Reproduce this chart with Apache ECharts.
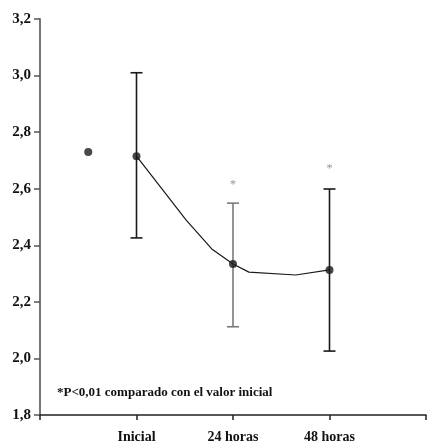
<!DOCTYPE html>
<html>
<head>
<meta charset="utf-8">
<script src="https://cdn.jsdelivr.net/npm/echarts@6/dist/echarts.min.js"></script>
<style>
  html, body { margin: 0; padding: 0; background: #fff; }
  #chart { width: 429px; height: 446px; }
</style>
</head>
<body>
<div id="chart"></div>
<script>
// categorías y posiciones en el eje x
var categories = ["Inicial", "24 horas", "48 horas"];
var catPos = [1, 2, 3];
// medias y barras de error
var means = [2.715, 2.334, 2.313];
var upper = [3.01, 2.549, 2.599];
var lower = [2.426, 2.112, 2.026];
var barColors = ["#1a1a1a", "#7a7a7a", "#1a1a1a"];
// curva que une las medias
var curveX = [1, 1.515, 1.78, 2, 2.165, 2.65, 3];
var curveY = [2.715, 2.489, 2.387, 2.334, 2.305, 2.295, 2.313];
// punto suelto a la izquierda
var loneDot = [0.5, 2.73];
// asteriscos de significación
var starPos = [2, 3];
var starY = [2.615, 2.67];
var yTicks = [1.8, 2.0, 2.2, 2.4, 2.6, 2.8, 3.0, 3.2];

var serif = "Liberation Serif";
var myChart = echarts.init(document.getElementById("chart"));

var option = {
  animation: false,
  grid: { left: 40, right: 1, top: 19, bottom: 31 },
  xAxis: {
    type: "value",
    min: 0,
    max: 4,
    interval: 1,
    splitLine: { show: false },
    axisLine: { show: true, lineStyle: { color: "#222", width: 1.5 } },
    axisTick: { show: true, length: 5, lineStyle: { color: "#222", width: 1.5 } },
    axisLabel: {
      margin: 15,
      color: "#111",
      fontFamily: serif,
      fontWeight: "bold",
      fontSize: 14,
      formatter: function (v) {
        var i = catPos.indexOf(v);
        return i >= 0 ? categories[i] : "";
      },
    },
  },
  yAxis: {
    type: "value",
    min: yTicks[0],
    max: yTicks[yTicks.length - 1],
    interval: 0.2,
    splitLine: { show: false },
    axisLine: { show: true, lineStyle: { color: "#777", width: 2 } },
    axisTick: { show: true, length: 6, lineStyle: { color: "#555", width: 1.5 } },
    axisLabel: {
      margin: 9,
      color: "#111",
      fontFamily: serif,
      fontWeight: "bold",
      fontSize: 15,
      formatter: function (v) {
        return v.toFixed(1).replace(".", ",");
      },
    },
  },
  series: [
    {
      type: "line",
      data: curveX.map(function (x, i) { return [x, curveY[i]]; }),
      symbol: "none",
      lineStyle: { color: "#1a1a1a", width: 1.2 },
      z: 2,
    },
    {
      type: "custom",
      data: catPos.map(function (x, i) { return [x, lower[i], upper[i], i]; }),
      renderItem: function (params, api) {
        var x = api.value(0);
        var lo = api.coord([x, api.value(1)]);
        var hi = api.coord([x, api.value(2)]);
        var c = barColors[api.value(3)];
        var w = 6;
        var style = { stroke: c, lineWidth: 1.6 };
        return {
          type: "group",
          children: [
            { type: "line", shape: { x1: hi[0], y1: hi[1], x2: lo[0], y2: lo[1] }, style: style },
            { type: "line", shape: { x1: hi[0] - w, y1: hi[1], x2: hi[0] + w, y2: hi[1] }, style: style },
            { type: "line", shape: { x1: lo[0] - w, y1: lo[1], x2: lo[0] + w, y2: lo[1] }, style: style },
          ],
        };
      },
      z: 3,
    },
    {
      type: "scatter",
      data: catPos.map(function (x, i) { return [x, means[i]]; }).concat([loneDot]),
      symbol: "circle",
      symbolSize: 8,
      itemStyle: { color: "#1a1a1a" },
      z: 4,
    },
    {
      type: "scatter",
      data: starPos.map(function (x, i) { return [x, starY[i]]; }),
      symbolSize: 0,
      label: {
        show: true,
        position: "inside",
        formatter: "*",
        color: "#777",
        fontFamily: serif,
        fontSize: 12,
      },
      z: 4,
    },
  ],
  graphic: [
    {
      type: "text",
      left: 57,
      top: 386,
      style: {
        text: "*P<0,01 comparado con el valor inicial",
        fill: "#111",
        font: "bold 13px 'Liberation Serif'",
      },
    },
  ],
};

myChart.setOption(option);
window.onresize = function () {
  myChart.resize();
};
</script>
</body>
</html>
